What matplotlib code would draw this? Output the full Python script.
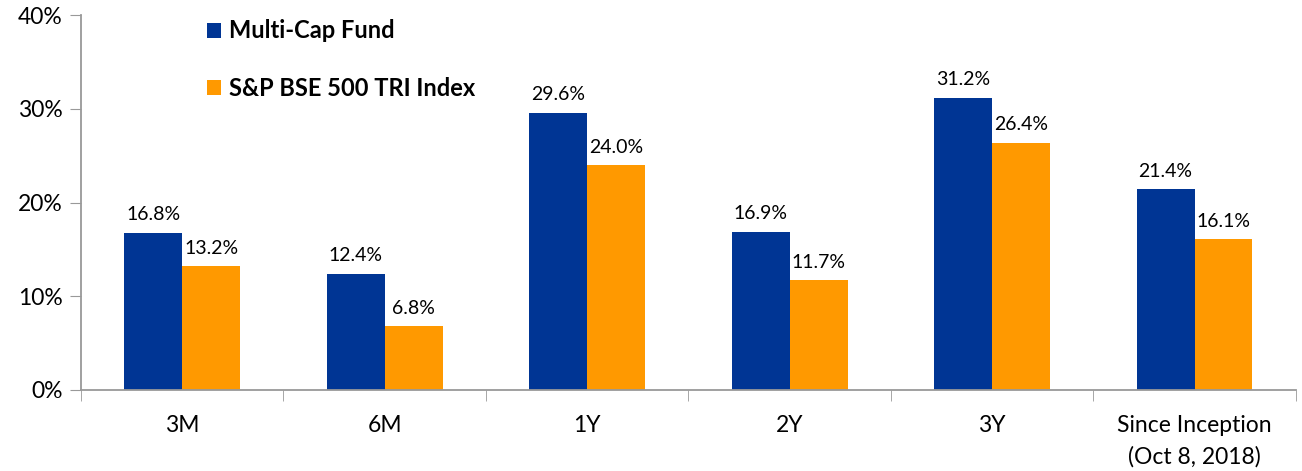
import matplotlib.pyplot as plt
import numpy as np

categories = ["3M", "6M", "1Y", "2Y", "3Y", "Since Inception\n(Oct 8, 2018)"]
fund = [16.8, 12.4, 29.6, 16.9, 31.2, 21.4]
index = [13.2, 6.8, 24.0, 11.7, 26.4, 16.1]
fund_name = "Multi-Cap Fund"
index_name = "S&P BSE 500 TRI Index"

plt.rcParams['font.family'] = ['Lato', 'DejaVu Sans']

fig = plt.figure(figsize=(13.02, 4.71), dpi=100)
ax = fig.add_axes([0.0622, 0.172, 0.933, 0.796])

x = np.arange(len(categories))
w = 0.286
b1 = ax.bar(x - w/2, fund, w, color="#003594", label=fund_name)
b2 = ax.bar(x + w/2, index, w, color="#FF9900", label=index_name)

for bars, vals in ((b1, fund), (b2, index)):
    for r, v in zip(bars, vals):
        ax.text(r.get_x() + r.get_width()/2, v + 1.0, f"{v:.1f}%",
                ha="center", va="bottom", fontsize=14)

ax.set_xlim(-0.5, len(categories) - 0.5)
ax.set_ylim(0, 40)
ax.set_yticks([0, 10, 20, 30, 40])
ax.set_yticklabels([f"{t}%" for t in [0, 10, 20, 30, 40]], fontsize=16.5)
ax.set_xticks(x)
ax.set_xticklabels(categories, fontsize=16.5, linespacing=1.55)
ax.set_xticks(np.arange(len(categories) + 1) - 0.5, minor=True)
ax.tick_params(axis="x", which="major", length=0, pad=18)
ax.tick_params(axis="x", which="minor", length=8, color="#999999")
ax.tick_params(axis="y", length=8, color="#999999", pad=5)

for s in ["top", "right"]:
    ax.spines[s].set_visible(False)
for s in ["left", "bottom"]:
    ax.spines[s].set_color("#999999")
    ax.spines[s].set_linewidth(1.3)

ax.legend(loc="upper left", bbox_to_anchor=(0.086, 1.045), frameon=False,
          prop={"weight": "bold", "size": 17}, labelspacing=1.45,
          handlelength=0.6, handleheight=0.6, handletextpad=0.35)

fig.savefig("out.png")
